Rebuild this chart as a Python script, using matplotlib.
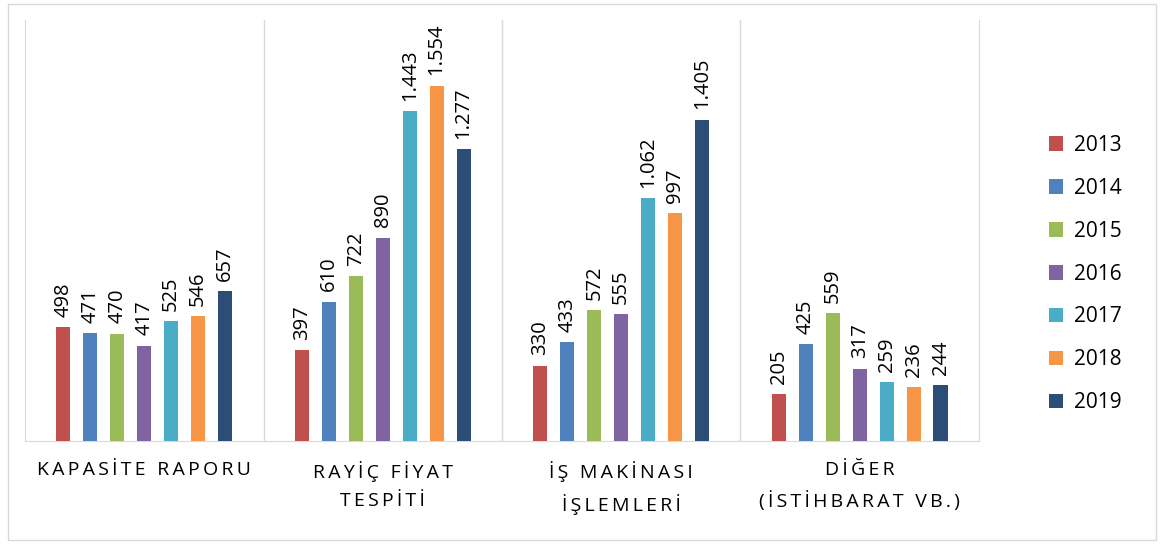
import matplotlib
matplotlib.use('Agg')
import matplotlib.pyplot as plt
import numpy as np

plt.rcParams['font.family'] = ['Open Sans', 'DejaVu Sans']

categories = ['KAPASİTE RAPORU', 'RAYİÇ FİYAT\nTESPİTİ', 'İŞ MAKİNASI\nİŞLEMLERİ', 'DİĞER\n(İSTİHBARAT VB.)']
years = ['2013', '2014', '2015', '2016', '2017', '2018', '2019']
values = [
    [498, 397, 330, 205],
    [471, 610, 433, 425],
    [470, 722, 572, 559],
    [417, 890, 555, 317],
    [525, 1443, 1062, 259],
    [546, 1554, 997, 236],
    [657, 1277, 1405, 244],
]
colors = ['#C0504D', '#4F81BD', '#9BBB59', '#8064A2', '#4BACC6', '#F79646', '#2C4D75']


def spaced(s):
    # imitate letter spacing of the original labels
    return '\n'.join('\u2009'.join(line) for line in s.split('\n'))


def fmt(v):
    return f'{v:,}'.replace(',', '.')


fig = plt.figure(figsize=(11.64, 5.44), dpi=100)
border = plt.Rectangle((0.007, 0.008), 0.986, 0.984, transform=fig.transFigure,
                       fill=False, edgecolor='#D9D9D9', linewidth=1)
fig.patches.append(border)
ax = fig.add_axes([0.0215, 0.189, 0.8195, 0.774])

x = np.arange(len(categories))
step = 0.113
width = 0.059
for i, (yr, vals) in enumerate(zip(years, values)):
    pos = x + (i - 3) * step
    ax.bar(pos, vals, width=width, color=colors[i], label=yr, zorder=3)
    for p, v in zip(pos, vals):
        ax.text(p, v + 45, fmt(v), rotation=90, ha='center', va='bottom',
                fontsize=14.5, color='#000000')

ax.set_xlim(-0.5, 3.5)
ax.set_ylim(0, 1840)
ax.set_yticks([])
ax.set_xticks([])
for b in [0.5, 1.5, 2.5]:
    ax.axvline(b, color='#D9D9D9', linewidth=1, zorder=1)
for s in ['left', 'right']:
    ax.spines[s].set_color('#D9D9D9')
ax.spines['bottom'].set_color('#D9D9D9')
ax.spines['top'].set_visible(False)

for xi, c in zip(x, categories):
    ax.text(xi, -85, spaced(c), ha='center', va='top', fontsize=14,
            linespacing=1.75, color='#000000')

fig.legend(loc='center left', bbox_to_anchor=(1030 / 1164, 1 - 274 / 544), frameon=False,
           fontsize=15, handlelength=0.7, handleheight=0.7, labelspacing=1.05,
           handletextpad=0.5)

fig.savefig('out.png', dpi=100)
